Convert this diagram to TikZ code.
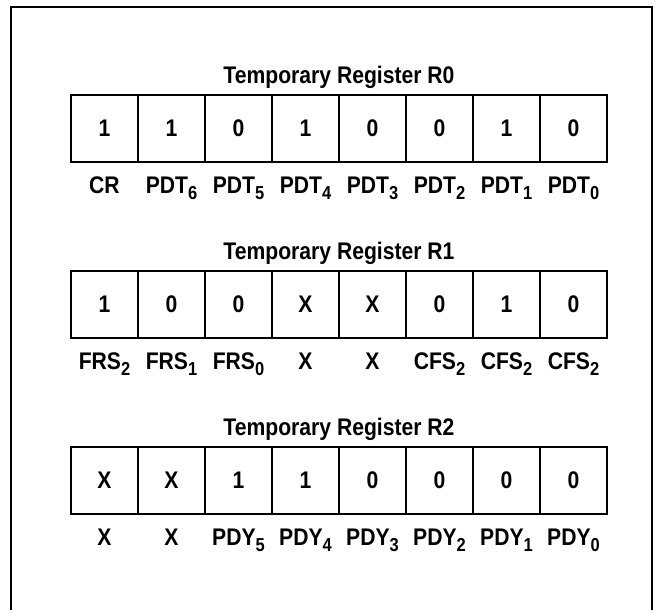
\documentclass[tikz,border=0pt]{standalone}
\usepackage{fontspec}
\setmainfont{Liberation Sans}[FakeStretch=0.88]
\usetikzlibrary{positioning}
\newcommand{\bitsub}[1]{\raisebox{-0.28em}{\fontsize{16}{16}\selectfont #1}}
\begin{document}
\begin{tikzpicture}[x=0.03cm, y=-0.03cm, line width=1.6pt,
	regfont/.style={font=\fontsize{20.5}{24}\selectfont\bfseries},
	cell/.style={draw, regfont, minimum size=2.01cm, inner sep=0pt, outer sep=0pt},
	bitname/.style={regfont, inner sep=0pt},
	regtitle/.style={regfont, anchor=base, inner sep=0pt}]
	\useasboundingbox (0,0) rectangle (660,610);
	% outer frame, open at the bottom
	\draw (11,625) -- (11,7) -- (652,7) -- (652,625);
	
	% register R0
	\node[regtitle] (t0) at (339,83) {Temporary Register R0};
	\foreach \v/\n [count=\i from 0] in {1/CR, 1/PDT\bitsub{6}, 0/PDT\bitsub{5}, 1/PDT\bitsub{4},
		0/PDT\bitsub{3}, 0/PDT\bitsub{2}, 1/PDT\bitsub{1}, 0/PDT\bitsub{0}} {
		\node[cell] (r0c\i) at (104.5+67*\i,128.5) {\v};
		\node[bitname, below=0.93cm of r0c\i, anchor=base] (r0n\i) {\n};
	}
	
	% register R1
	\node[regtitle] (t1) at (339,259) {Temporary Register R1};
	\foreach \v/\n [count=\i from 0] in {1/FRS\bitsub{2}, 0/FRS\bitsub{1}, 0/FRS\bitsub{0}, X/X,
		X/X, 0/CFS\bitsub{2}, 1/CFS\bitsub{2}, 0/CFS\bitsub{2}} {
		\node[cell] (r1c\i) at (104.5+67*\i,304.5) {\v};
		\node[bitname, below=0.93cm of r1c\i, anchor=base] (r1n\i) {\n};
	}
	
	% register R2
	\node[regtitle] (t2) at (339,435) {Temporary Register R2};
	\foreach \v/\n [count=\i from 0] in {X/X, X/X, 1/PDY\bitsub{5}, 1/PDY\bitsub{4},
		0/PDY\bitsub{3}, 0/PDY\bitsub{2}, 0/PDY\bitsub{1}, 0/PDY\bitsub{0}} {
		\node[cell] (r2c\i) at (104.5+67*\i,480.5) {\v};
		\node[bitname, below=0.93cm of r2c\i, anchor=base] (r2n\i) {\n};
	}
\end{tikzpicture}
\end{document}
